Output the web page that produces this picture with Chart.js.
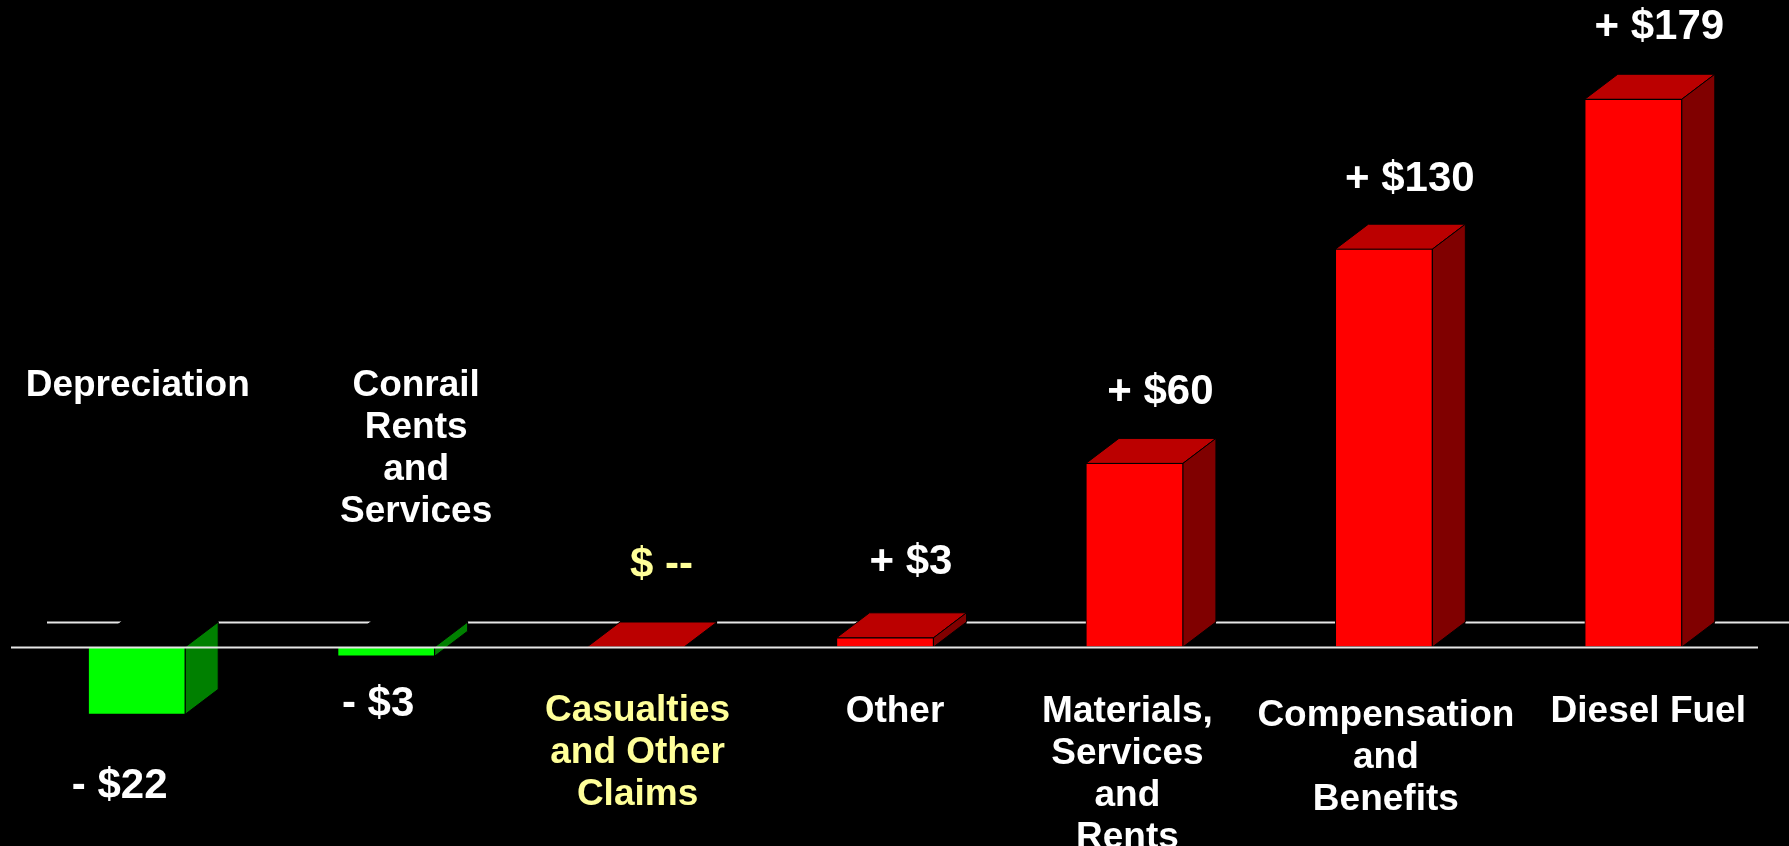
<!DOCTYPE html>
<html>
<head>
<meta charset="utf-8">
<title>Operating expense changes</title>
<style>
  html, body { margin: 0; padding: 0; background: #000; overflow: hidden; }
  #wrap { width: 1789px; height: 846px; position: relative; }
  canvas { display: block; }
</style>
<script src="https://cdn.jsdelivr.net/npm/chart.js@4.4.1/dist/chart.umd.min.js"></script>
</head>
<body>
<div id="wrap"><canvas id="chart" width="1789" height="846"></canvas></div>
<script>
// Expense categories (multi-line labels) and year-over-year change, $ millions
const categories = [
  ['Depreciation'],
  ['Conrail', 'Rents', 'and', 'Services'],
  ['Casualties', 'and Other', 'Claims'],
  ['Other'],
  ['Materials,', 'Services', 'and', 'Rents'],
  ['Compensation', 'and', 'Benefits'],
  ['Diesel Fuel']
];
const changes = [-22, -3, 0, 3, 60, 130, 179];
const highlighted = ['Casualties'];   // first line of categories drawn in yellow

// Layout / style settings
const DEPTH = { dx: 33, dy: 25 };
const FONT_FAMILY = "'Liberation Sans', Arial, Helvetica, sans-serif";
const CAT_FONT = 'bold 37px ' + FONT_FAMILY;
const VAL_FONT = 'bold 42px ' + FONT_FAMILY;
const CAT_LINE = 41.8;
const WHITE = '#ffffff';
const YELLOW = '#ffff99';
const FLOOR_LINE = '#e6e6e6';
const PALETTE = {
  up:   { front: '#ff0000', top: '#bb0000', side: '#800000' },
  down: { front: '#00ff00', top: '#000000', side: '#008000' }
};
// small per-category nudges of the text blocks, in px: [dx, dy]
const catNudge = [[1, 0], [30, 0], [2, -1], [10, 0], [-7, 0], [2, 4], [15, 0]];
const valNudge = [[-17, 72], [-8, 48], [26, -82], [26, -75], [26, -71], [26, -70], [26, -72]];

function fmtChange(v) {
  if (v > 0) return '+ $' + v;
  if (v < 0) return '- $' + Math.abs(v);
  return '$ --';
}
function isHighlighted(i) { return highlighted.includes(categories[i][0]); }

function poly(ctx, pts, fill) {
  ctx.beginPath();
  ctx.moveTo(pts[0][0], pts[0][1]);
  for (let k = 1; k < pts.length; k++) ctx.lineTo(pts[k][0], pts[k][1]);
  ctx.closePath();
  ctx.fillStyle = fill;
  ctx.fill();
  ctx.stroke();
}

// Draws the floor lines, the top/side faces of each bar and all text
const bar3d = {
  id: 'bar3d',
  beforeDatasetsDraw(chart) {
    const { ctx, chartArea, scales: { y } } = chart;
    const y0 = y.getPixelForValue(0);
    const bars = chart.getDatasetMeta(0).data;
    const { dx, dy } = DEPTH;

    // back edge of the floor, interrupted behind each bar
    ctx.save();
    ctx.strokeStyle = FLOOR_LINE;
    ctx.lineWidth = 2;
    let x = chartArea.left + dx + 2;
    const yb = Math.round(y0 - dy) + 0.5;
    bars.forEach(bar => {
      const L = bar.x - bar.width / 2 + dx, R = bar.x + bar.width / 2 + dx;
      ctx.beginPath(); ctx.moveTo(x, yb); ctx.lineTo(L, yb); ctx.stroke();
      x = R;
    });
    ctx.beginPath(); ctx.moveTo(x, yb); ctx.lineTo(chart.width, yb); ctx.stroke();

    // top and side faces
    ctx.strokeStyle = '#000';
    ctx.lineWidth = 1;
    ctx.lineJoin = 'miter';
    bars.forEach((bar, i) => {
      const c = changes[i] < 0 ? PALETTE.down : PALETTE.up;
      const L = bar.x - bar.width / 2, R = bar.x + bar.width / 2;
      const top = Math.min(bar.y, bar.base), bot = Math.max(bar.y, bar.base);
      poly(ctx, [[L, top], [L + dx, top - dy], [R + dx, top - dy], [R, top]], c.top);
      if (bot - top > 0.5) {
        poly(ctx, [[R, top], [R + dx, top - dy], [R + dx, bot - dy], [R, bot]], c.side);
      }
    });
    ctx.restore();
  },
  afterDatasetsDraw(chart) {
    const { ctx, chartArea, scales: { y } } = chart;
    const y0 = y.getPixelForValue(0);
    const bars = chart.getDatasetMeta(0).data;

    // front edge of the floor
    ctx.save();
    ctx.strokeStyle = FLOOR_LINE;
    ctx.lineWidth = 2;
    const yf = Math.round(y0) + 0.5;
    ctx.beginPath(); ctx.moveTo(chartArea.left - 1, yf); ctx.lineTo(chartArea.right, yf); ctx.stroke();

    ctx.textAlign = 'center';
    ctx.textBaseline = 'middle';
    bars.forEach((bar, i) => {
      const v = changes[i];
      ctx.fillStyle = isHighlighted(i) ? YELLOW : WHITE;

      // value label
      ctx.font = VAL_FONT;
      const top = Math.min(bar.y, bar.base), bot = Math.max(bar.y, bar.base);
      const [vx, vy] = valNudge[i];
      const ly = v < 0 ? bot + vy : top + vy;
      ctx.fillText(fmtChange(v), bar.x + vx, ly);

      // category label: below the floor for increases, above it for decreases
      ctx.font = CAT_FONT;
      const lines = chart.data.labels[i];
      const [cx, cy] = catNudge[i];
      const firstY = (v < 0 ? y0 - 261 : y0 + 65) + cy;
      lines.forEach((ln, k) => ctx.fillText(ln, bar.x + cx, firstY + k * CAT_LINE));
    });
    ctx.restore();
  }
};

new Chart(document.getElementById('chart'), {
  type: 'bar',
  data: {
    labels: categories,
    datasets: [{
      data: changes,
      backgroundColor: changes.map(v => v < 0 ? PALETTE.down.front : PALETTE.up.front),
      borderColor: '#000',
      borderWidth: 1,
      borderSkipped: false,
      barThickness: 97
    }]
  },
  options: {
    responsive: false,
    devicePixelRatio: 1,
    animation: false,
    layout: { padding: { left: 12, right: 31, top: 35, bottom: 46 } },
    scales: {
      x: { display: false, grid: { display: false } },
      y: { display: false, min: -50, max: 200, grid: { display: false } }
    },
    plugins: {
      legend: { display: false },
      tooltip: { enabled: false }
    }
  },
  plugins: [bar3d]
});
</script>
</body>
</html>
